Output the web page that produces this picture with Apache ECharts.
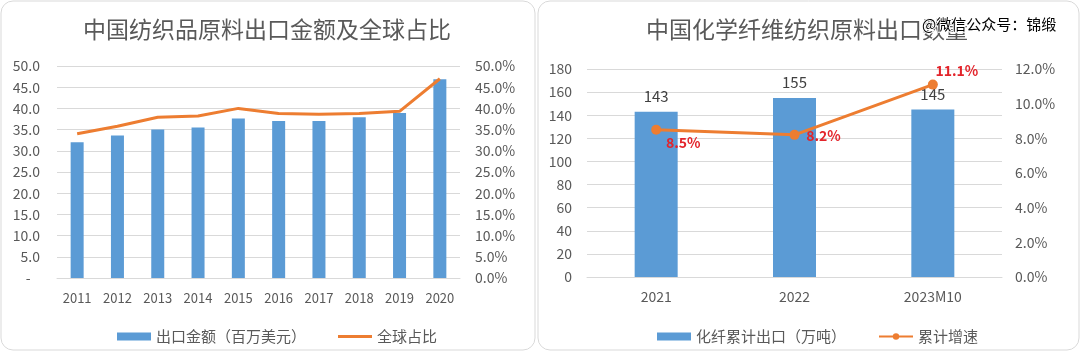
<!DOCTYPE html>
<html>
<head>
<meta charset="utf-8">
<script src="https://cdn.jsdelivr.net/npm/echarts@6/dist/echarts.min.js"></script>
<style>
  html, body { margin: 0; padding: 0; background: #fff; }
  #chart { width: 1080px; height: 352px; }
</style>
</head>
<body>
<div id="chart"></div>
<script>
// Left chart: textile raw material exports
const years = ['2011', '2012', '2013', '2014', '2015', '2016', '2017', '2018', '2019', '2020'];
const exportValue = [32.0, 33.6, 35.0, 35.5, 37.6, 37.0, 37.0, 37.9, 38.9, 46.9];
const globalShare = [34.0, 35.8, 37.9, 38.2, 40.0, 38.8, 38.6, 38.8, 39.3, 47.0];

// Right chart: chemical fibre exports
const periods = ['2021', '2022', '2023M10'];
const fibreExport = [143, 155, 145];
const fibreGrowth = [8.5, 8.2, 11.1];
const growthLabelOffsets = [[27, 13], [29, 1], [24, -14]];

const BLUE = '#5b9bd5';
const ORANGE = '#ed7d31';
const GRID = '#d9d9d9';
const TEXT = '#595959';
const FONT = '"Noto Sans CJK SC", "Noto Sans", sans-serif';

const chart = echarts.init(document.getElementById('chart'));

const axisLabel = {color: TEXT, fontSize: 14, fontFamily: FONT};
const splitLine = {show: true, lineStyle: {color: GRID, width: 1}};

chart.setOption({
    animation: false,
    textStyle: {fontFamily: FONT},
    title: [
        {text: '中国纺织品原料出口金额及全球占比', left: 262, top: 13, textAlign: 'center',
            textStyle: {color: TEXT, fontSize: 23, fontWeight: 'normal', fontFamily: FONT}},
        {text: '中国化学纤维纺织原料出口数量', left: 802, top: 13, textAlign: 'center',
            textStyle: {color: TEXT, fontSize: 23, fontWeight: 'normal', fontFamily: FONT}},
    ],
    graphic: [
        {type: 'rect', shape: {x: 1, y: 1, width: 534, height: 349, r: 12},
            style: {fill: 'none', stroke: GRID, lineWidth: 1}, z: -1},
        {type: 'rect', shape: {x: 538, y: 1, width: 541, height: 349, r: 12},
            style: {fill: 'none', stroke: GRID, lineWidth: 1}, z: -1},
        {type: 'text', left: 921, top: 16, z: 100,
            style: {text: '@微信公众号：锦缎', fill: '#000', stroke: '#fff', lineWidth: 2,
                font: '15px "Noto Sans CJK SC"'}},
    ],
    legend: [
        {left: 112, top: 324, itemWidth: 34, itemHeight: 8, itemGap: 32,
            textStyle: {color: TEXT, fontSize: 15, fontFamily: FONT},
            data: [{name: '出口金额（百万美元）', icon: 'rect'},
                {name: '全球占比', icon: 'path://M0 0H37V3H0Z'}]},
        {left: 652, top: 324, itemWidth: 34, itemHeight: 8, itemGap: 32,
            textStyle: {color: TEXT, fontSize: 15, fontFamily: FONT},
            data: [{name: '化纤累计出口（万吨）', icon: 'rect'}, {name: '累计增速'}]},
    ],
    grid: [
        {left: 57, right: 620, top: 66, bottom: 74},
        {left: 587, right: 78, top: 69, bottom: 75},
    ],
    xAxis: [
        {type: 'category', gridIndex: 0, data: years,
            axisTick: {show: false}, axisLine: {lineStyle: {color: GRID}},
            axisLabel: {...axisLabel, fontSize: 13, interval: 0, margin: 14}},
        {type: 'category', gridIndex: 1, data: periods,
            axisTick: {show: false}, axisLine: {lineStyle: {color: GRID}},
            axisLabel: {...axisLabel, interval: 0, margin: 13}},
    ],
    yAxis: [
        {type: 'value', gridIndex: 0, min: 0, max: 50, interval: 5, splitLine,
            axisLabel: {...axisLabel, margin: 17, formatter: v => v === 0 ? '-   ' : v.toFixed(1)}},
        {type: 'value', gridIndex: 0, min: 0, max: 50, interval: 5, position: 'right',
            splitLine: {show: false},
            axisLabel: {...axisLabel, margin: 15, formatter: v => v.toFixed(1) + '%'}},
        {type: 'value', gridIndex: 1, min: 0, max: 180, interval: 20, splitLine,
            axisLabel: {...axisLabel, margin: 15}},
        {type: 'value', gridIndex: 1, min: 0, max: 12, interval: 2, position: 'right',
            splitLine: {show: false},
            axisLabel: {...axisLabel, margin: 13, formatter: v => v.toFixed(1) + '%'}},
    ],
    series: [
        {name: '出口金额（百万美元）', type: 'bar', xAxisIndex: 0, yAxisIndex: 0,
            data: exportValue, barWidth: 13, itemStyle: {color: BLUE}},
        {name: '全球占比', type: 'line', xAxisIndex: 0, yAxisIndex: 1,
            data: globalShare, symbol: 'none', lineStyle: {color: ORANGE, width: 3},
            itemStyle: {color: ORANGE}},
        {name: '化纤累计出口（万吨）', type: 'bar', xAxisIndex: 1, yAxisIndex: 2,
            data: fibreExport, barWidth: 43, itemStyle: {color: BLUE},
            label: {show: true, position: 'top', distance: 8, color: '#404040', fontSize: 15, fontFamily: FONT}},
        {name: '累计增速', type: 'line', xAxisIndex: 1, yAxisIndex: 3,
            data: fibreGrowth.map((v, i) => ({
                value: v,
                label: {offset: growthLabelOffsets[i]},
            })),
            symbol: 'circle', symbolSize: 10,
            lineStyle: {color: ORANGE, width: 3}, itemStyle: {color: ORANGE},
            label: {show: true, position: 'inside', color: '#e3242b', fontSize: 14,
                fontWeight: 'bold', fontFamily: FONT, formatter: p => p.value.toFixed(1) + '%'}},
    ],
});
</script>
</body>
</html>
